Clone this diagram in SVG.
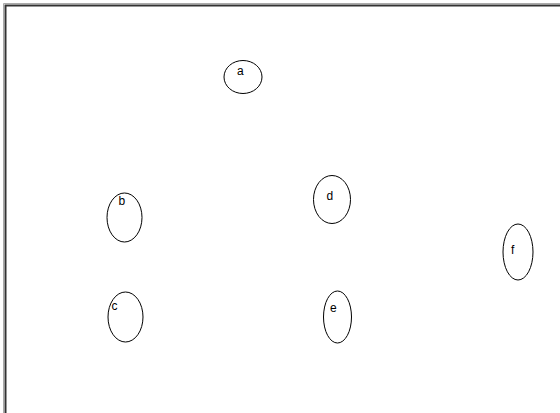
<svg xmlns="http://www.w3.org/2000/svg" width="560" height="413" viewBox="0 0 560 413">
<style>
.n ellipse{fill:none;stroke:#000;stroke-width:1}
.n text{font-family:"Liberation Sans",Arial,sans-serif;font-size:12px;fill:#000}
</style>
<rect x="0" y="0" width="560" height="413" fill="#fff"/>
<path d="M5.5 413V5.5H560" fill="none" stroke="#333" stroke-width="2"/>
<path d="M3.5 413V3.5H560" fill="none" stroke="#aaa" stroke-width="1"/>
<g id="connectors"></g>
<g id="a" class="n"><ellipse cx="243" cy="77" rx="19" ry="16.5"/><text x="237" y="75">a</text></g>
<g id="b" class="n"><ellipse cx="124.5" cy="217.5" rx="17.5" ry="24.5"/><text x="118.5" y="205">b</text></g>
<g id="c" class="n"><ellipse cx="125.5" cy="317" rx="17.5" ry="25"/><text x="111.5" y="310">c</text></g>
<g id="d" class="n"><ellipse cx="332" cy="199.5" rx="18.5" ry="24"/><text x="326.5" y="200">d</text></g>
<g id="e" class="n"><ellipse cx="337.5" cy="317" rx="14" ry="26"/><text x="330" y="312">e</text></g>
<g id="f" class="n"><ellipse cx="518" cy="252" rx="15" ry="28"/><text x="511" y="254">f</text></g>
</svg>
